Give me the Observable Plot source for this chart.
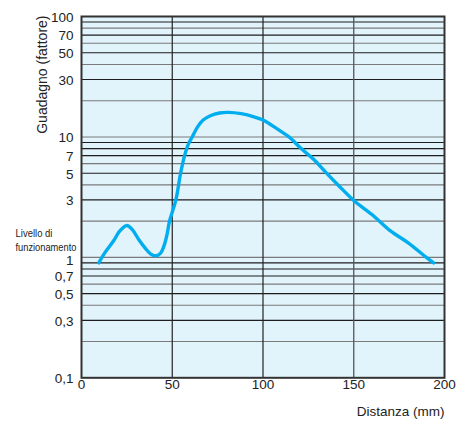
<!DOCTYPE html>
<html>
<head>
<meta charset="utf-8">
<script src="https://cdn.jsdelivr.net/npm/d3@7"></script>
<script src="https://cdn.jsdelivr.net/npm/@observablehq/plot@0.6"></script>
<style>
  html, body { margin: 0; padding: 0; background: #ffffff; }
  #chart svg { display: block; }
</style>
</head>
<body>
<div id="chart"></div>
<script>
// Distance (mm) and gain (factor) of the curve
const distance = [9.5, 13, 17.8, 21, 25, 28, 31.6, 35, 38, 40.8, 43.5, 45.5, 47.2, 48.5, 52, 54.6, 56.8, 59, 61, 63.8, 67, 71, 76, 81, 88, 95, 100, 108, 114.3, 121, 128, 135, 142, 150, 160, 170, 180, 190, 194];
const gain = [0.9, 1.1, 1.38, 1.65, 1.84, 1.7, 1.4, 1.2, 1.07, 1.03, 1.08, 1.25, 1.57, 2.0, 3.0, 5.0, 7.0, 8.8, 10.0, 12.0, 13.8, 15.0, 15.8, 16.0, 15.6, 14.7, 13.8, 11.6, 10.0, 8.0, 6.5, 5.0, 3.9, 2.97, 2.27, 1.67, 1.32, 1.0, 0.9];

// Axis ticks
const xTicks = [0, 50, 100, 150, 200];
const yTicks = [0.1, 0.3, 0.5, 0.7, 3, 5, 7, 10, 30, 50, 70, 100];
const yTickOne = [1]; // drawn a little below its line, as in the original

// Grid lines
const darkGrid = [0.3, 0.5, 0.7, 0.8, 0.9, 3, 5, 7, 8, 9, 30, 50, 70, 90];
const grayGrid = [0.2, 0.4, 0.6, 1, 2, 4, 6, 10, 20, 40, 60, 80];
const darkVGrid = [50, 100];
const grayVGrid = [150];

// Texts
const xTitle = "Distanza (mm)";
const yTitle = "Guadagno (fattore)";
const noteLines = ["Livello di", "funzionamento"];

const data = distance.map((d, i) => ({d, g: gain[i]}));
const fmt = v => String(v).replace(".", ",");

const chart = Plot.plot({
  width: 456,
  height: 430,
  marginTop: 16,
  marginBottom: 52.7,
  marginLeft: 81,
  marginRight: 12,
  style: {fontFamily: "'Liberation Sans', Arial, Helvetica, sans-serif", fontSize: "13px", color: "#222", background: "#ffffff"},
  x: {domain: [0, 200], axis: null},
  y: {type: "log", domain: [0.1, 100], axis: null},
  marks: [
    Plot.frame({fill: "#e1f3fb", stroke: null}),
    Plot.ruleY(grayGrid, {stroke: "#7a7a7a", strokeWidth: 1.1}),
    Plot.ruleY(darkGrid, {stroke: "#1e1e1e", strokeWidth: 1.1}),
    Plot.ruleX(grayVGrid, {stroke: "#555", strokeWidth: 1.3}),
    Plot.ruleX(darkVGrid, {stroke: "#222", strokeWidth: 1.2}),
    Plot.frame({stroke: "#333", strokeWidth: 2}),
    Plot.line(data, {x: "d", y: "g", stroke: "#00aeef", strokeWidth: 3.4, curve: "catmull-rom"}),
    Plot.text(xTicks, {x: d => d, text: d => String(d), frameAnchor: "bottom", dy: 11, fontSize: 13.5}),
    Plot.text(yTicks, {y: d => d, text: fmt, frameAnchor: "left", dx: -8, dy: 1, textAnchor: "end", fontSize: 13.5}),
    Plot.text(yTickOne, {y: d => d, text: fmt, frameAnchor: "left", dx: -8, dy: 3, textAnchor: "end", fontSize: 13.5}),
    Plot.text([xTitle], {frameAnchor: "bottom-right", dy: 38, textAnchor: "end", fontSize: 13.5}),
    Plot.text([yTitle], {frameAnchor: "top-left", dx: -44, dy: -1, rotate: -90, textAnchor: "end", fontSize: 14}),
    Plot.text([noteLines[0]], {frameAnchor: "top-left", dx: -66, dy: 213.5, textAnchor: "start", fontSize: 10.5}),
    Plot.text([noteLines[1]], {frameAnchor: "top-left", dx: -66, dy: 227, textAnchor: "start", fontSize: 10.5})
  ]
});
document.getElementById("chart").appendChild(chart);
// condense the small annotation text to match the narrow type of the original
const narrow = {"Livello di": 37, "funzionamento": 61};
chart.querySelectorAll("text").forEach(t => {
  const key = t.textContent.trim();
  if (narrow[key] !== undefined) {
    const w = t.getComputedTextLength();
    if (w > 0) {
      const s = narrow[key] / w;
      const x0 = t.getBBox().x;
      const prev = t.getAttribute("transform") || "";
      t.setAttribute("transform", prev + ` translate(${x0},0) scale(${s},1) translate(${-x0},0)`);
    }
  }
});
</script>
</body>
</html>
